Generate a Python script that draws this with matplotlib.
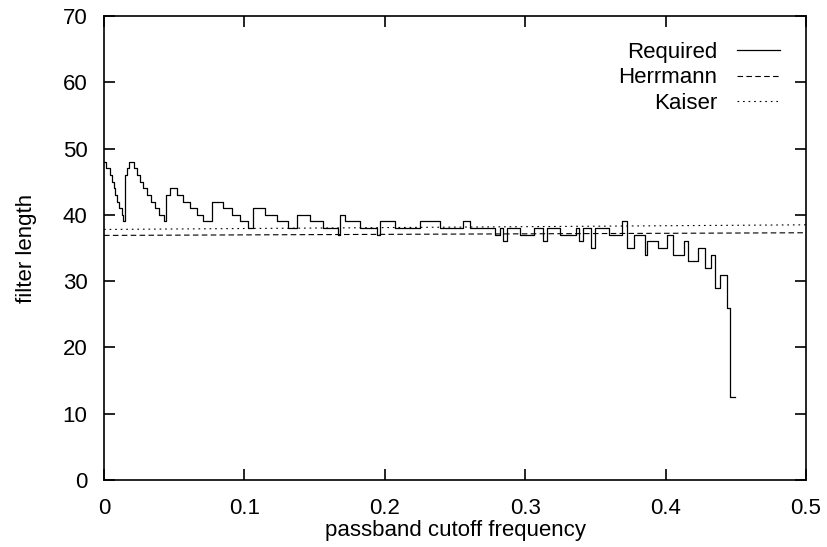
import matplotlib
matplotlib.use("Agg")
import matplotlib.pyplot as plt

# Required filter length (step function, value holds until next frequency)
req_f = [0.0, 0.0015, 0.0040, 0.0055, 0.0068, 0.0080, 0.0095, 0.0110, 0.0125, 0.0138,
         0.0150, 0.0166, 0.0178, 0.0214, 0.0235, 0.0256, 0.0280, 0.0304, 0.0332, 0.0363,
         0.0394, 0.0427, 0.0439, 0.0470, 0.0518, 0.0564, 0.0612, 0.0660, 0.0707, 0.0767,
         0.0849, 0.0909, 0.0969, 0.1028, 0.1064, 0.1147, 0.1230, 0.1313, 0.1372, 0.1467,
         0.1562, 0.1665, 0.1680, 0.1717, 0.1823, 0.1944, 0.1966, 0.2073, 0.2251, 0.2393,
         0.2557, 0.2607, 0.2785, 0.2820, 0.2842, 0.2870, 0.2960, 0.3060, 0.3130, 0.3155,
         0.3250, 0.3360, 0.3380, 0.3410, 0.3470, 0.3500, 0.3600, 0.3690, 0.3725, 0.3775,
         0.3850, 0.3870, 0.3945, 0.4010, 0.4050, 0.4130, 0.4160, 0.4230, 0.4280, 0.4320,
         0.4355, 0.4390, 0.4435, 0.4460, 0.4495]
req_len = [48, 47, 46, 45, 44, 43, 42, 41, 40, 39,
           46, 47, 48, 47, 46, 45, 44, 43, 42, 41,
           40, 39, 43, 44, 43, 42, 41, 40, 39, 42,
           41, 40, 39, 38, 41, 40, 39, 38, 40, 39,
           38, 37, 40, 39, 38, 37, 39, 38, 39, 38,
           39, 38, 37, 38, 36, 38, 37, 38, 36, 38,
           37, 38, 36, 38, 35, 38, 37, 39, 35, 37,
           34, 36, 35, 37, 34, 36, 33, 35, 32, 34,
           29, 31, 26, 12.5, 12.5]

herr_f = [0.0, 0.5]
herr_len = [36.9, 37.3]
kais_f = [0.0, 0.5]
kais_len = [37.8, 38.5]

plt.rcParams['font.family'] = ['Liberation Sans', 'DejaVu Sans']
fs = 16

fig = plt.figure(figsize=(8.27, 5.47), dpi=100)
ax = fig.add_axes([0.1258, 0.1225, 0.8488, 0.8482])

ax.step(req_f, req_len, where='post', color='black', lw=0.9, label='Required')
ax.plot(herr_f, herr_len, color='black', lw=0.8, dashes=(5, 3), label='Herrmann')
ax.plot(kais_f, kais_len, color='black', lw=0.8, dashes=(1.5, 3.5), label='Kaiser')

ax.set_xlim(0, 0.5)
ax.set_ylim(0, 70)
ax.set_xticks([0, 0.1, 0.2, 0.3, 0.4, 0.5])
ax.set_xticklabels(['0', '0.1', '0.2', '0.3', '0.4', '0.5'])
ax.set_yticks(range(0, 71, 10))
ax.tick_params(direction='in', length=8, width=1.2, labelsize=fs,
               top=True, right=True)
ax.tick_params(axis='y', pad=12)
ax.tick_params(axis='x', pad=13)
for s in ax.spines.values():
    s.set_linewidth(1.2)

ax.set_xlabel('passband cutoff frequency', fontsize=fs, labelpad=1)
ax.set_ylabel('filter length', fontsize=fs, labelpad=18)

ax.legend(loc='upper right', bbox_to_anchor=(0.963, 0.944), frameon=False,
          markerfirst=False, fontsize=fs, handlelength=1.95, handletextpad=0.86,
          labelspacing=0.2, borderpad=0, borderaxespad=0)

fig.savefig('out.png', dpi=100)
